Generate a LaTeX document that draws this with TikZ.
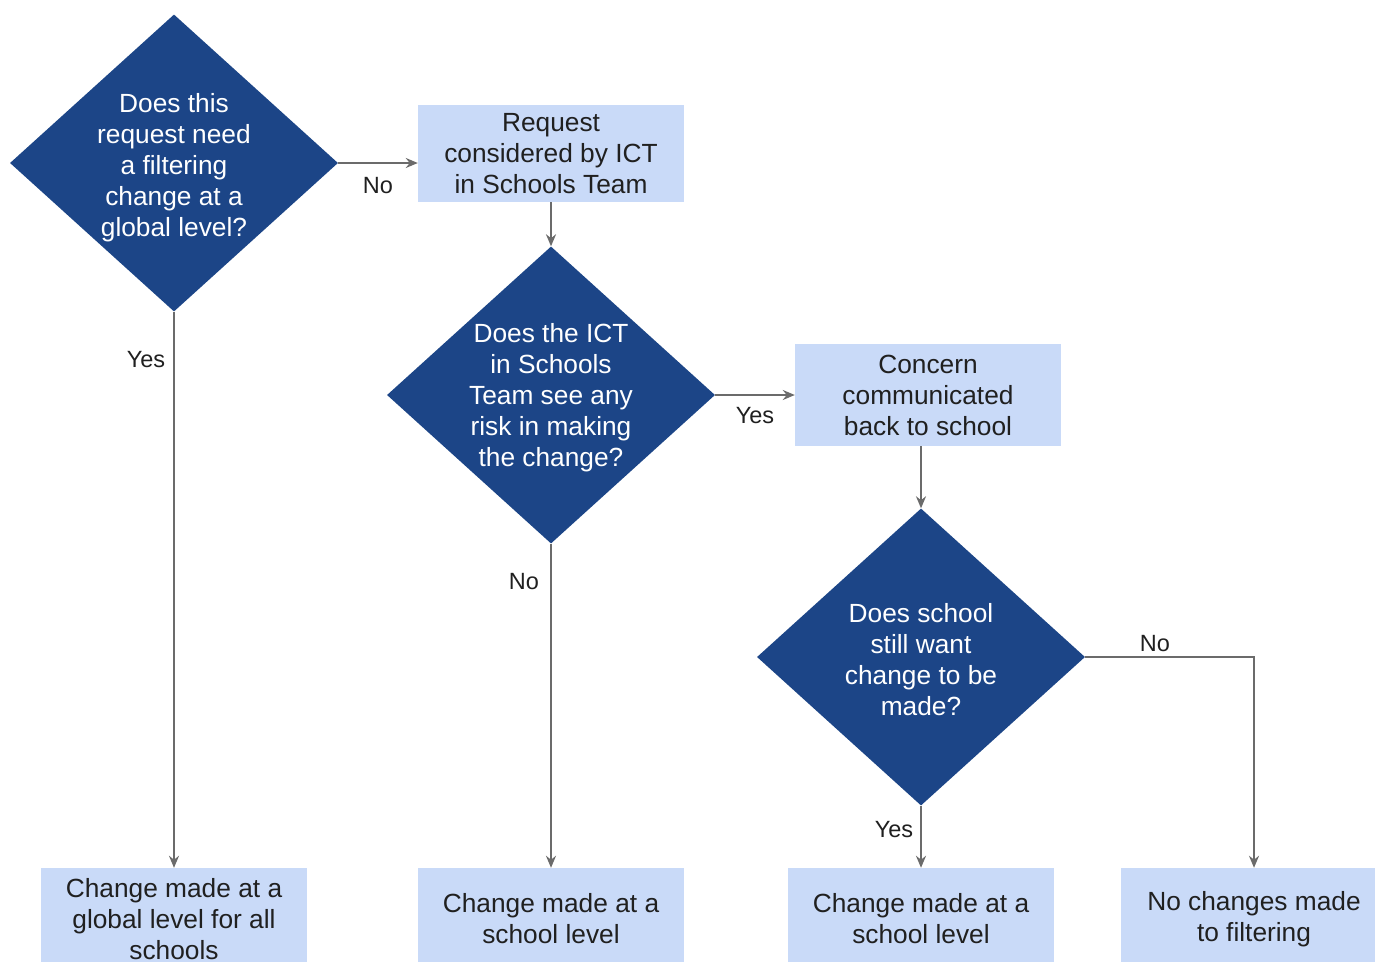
\documentclass[tikz,border=0pt]{standalone}
\usepackage{fontspec}
\setmainfont{Liberation Sans}
\usetikzlibrary{shapes.geometric,arrows.meta}
\definecolor{dblue}{HTML}{1C4587}
\definecolor{lblue}{HTML}{C9DAF8}
\definecolor{lgrey}{HTML}{6B6B6B}
\definecolor{ink}{HTML}{202020}
\tikzset{
  dec/.style={diamond, fill=dblue, draw=none, inner sep=0pt, aspect=1.1,
    minimum width=328, minimum height=297},
  dectext/.style={text=white, align=center, font=\fontsize{26.3}{31}\selectfont},
  box/.style={rectangle, fill=lblue, draw=none, minimum width=266, text=ink,
    align=center, font=\fontsize{26.3}{31}\selectfont},
  lab/.style={text=ink, font=\fontsize{23.5}{27}\selectfont},
  conn/.style={draw=lgrey, line width=2.8pt, -{Stealth[length=12pt,width=10pt]}}
}
\begin{document}
\begin{tikzpicture}[x=1pt,y=-1pt]
\useasboundingbox (0,0) rectangle (1375,961);
\clip (0,0) rectangle (1375,961);
% decisions
\node[dec] (d1) at (174,163) {};
\node[dectext] (t1) at (174,168) {Does this\\request need\\a filtering\\change at a\\global level?};
\node[dec] (d2) at (551,395) {};
\node[dectext] (t2) at (551,398) {Does the ICT\\in Schools\\Team see any\\risk in making\\the change?};
\node[dec] (d3) at (921,657) {};
\node[dectext] (t3) at (921,660) {Does school\\still want\\change to be\\made?};
% boxes
\node[box, minimum height=97] (b1) at (551,153.5) {Request\\considered by ICT\\in Schools Team};
\node[box, minimum height=102] (b2) at (928,395) {Concern\\communicated\\back to school};
\node[box, minimum height=102] (ba) at (174,919) {Change made at a\\global level for all\\schools};
\node[box, minimum height=102] (bb) at (551,919) {Change made at a\\school level};
\node[box, minimum height=102] (bc) at (921,919) {Change made at a\\school level};
\node[box, minimum height=102] (bd) at (1254,919) {No changes made\\to filtering};
\coordinate (corner) at (1254,657);
% connectors
\draw[conn] (d1.east) -- (d1.east -| b1.west);
\draw[conn] (b1.south) -- (d2.north);
\draw[conn] (d2.east) -- (b2.west);
\draw[conn] (b2.south -| d3.north) -- (d3.north);
\draw[conn] (d1.south) -- (ba.north);
\draw[conn] (d2.south) -- (bb.north);
\draw[conn] (d3.south) -- (bc.north);
\draw[conn] (d3.east) -- (corner) -- (bd.north);
% labels
\node[lab] (l1) at (378,186) {No};
\node[lab] (l2) at (146,360) {Yes};
\node[lab] (l3) at (755,416) {Yes};
\node[lab] (l4) at (524,582) {No};
\node[lab] (l5) at (1155,644) {No};
\node[lab] (l6) at (894,830) {Yes};
\end{tikzpicture}
\end{document}
